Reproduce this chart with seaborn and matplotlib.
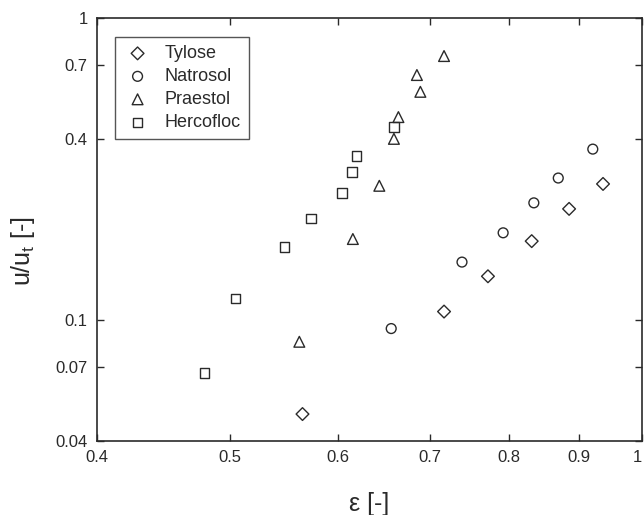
import matplotlib
matplotlib.use("Agg")
import matplotlib.pyplot as plt
import matplotlib.ticker as mticker
import seaborn as sns
import pandas as pd

# Data (x = voidage, y = u/u_t)
tylose_x = [0.565, 0.717, 0.772, 0.831, 0.885, 0.937]
tylose_y = [0.049, 0.107, 0.140, 0.183, 0.234, 0.283]
natrosol_x = [0.656, 0.739, 0.792, 0.834, 0.869, 0.921]
natrosol_y = [0.094, 0.156, 0.195, 0.245, 0.296, 0.369]
praestol_x = [0.562, 0.615, 0.643, 0.659, 0.664, 0.689, 0.685, 0.717]
praestol_y = [0.085, 0.186, 0.279, 0.399, 0.471, 0.571, 0.649, 0.750]
hercofloc_x = [0.479, 0.505, 0.548, 0.573, 0.604, 0.614, 0.619, 0.659]
hercofloc_y = [0.067, 0.118, 0.175, 0.218, 0.264, 0.310, 0.350, 0.437]

series_names = ["Tylose", "Natrosol", "Praestol", "Hercofloc"]
series_markers = ["D", "o", "^", "s"]
series_sizes = [42, 50, 60, 45]
x_ticks = [0.4, 0.5, 0.6, 0.7, 0.8, 0.9, 1.0]
x_tick_labels = ["0.4", "0.5", "0.6", "0.7", "0.8", "0.9", "1"]
y_ticks = [0.04, 0.07, 0.1, 0.4, 0.7, 1.0]
y_tick_labels = ["0.04", "0.07", "0.1", "0.4", "0.7", "1"]

data = {
    "Tylose": (tylose_x, tylose_y),
    "Natrosol": (natrosol_x, natrosol_y),
    "Praestol": (praestol_x, praestol_y),
    "Hercofloc": (hercofloc_x, hercofloc_y),
}

sns.set_style("ticks")
plt.rcParams["font.family"] = ["Liberation Sans", "DejaVu Sans"]
plt.rcParams["mathtext.fontset"] = "custom"
plt.rcParams["mathtext.rm"] = "Liberation Sans"

fig = plt.figure(figsize=(6.44, 5.15), dpi=100)
ax = fig.add_axes([0.1511, 0.1443, 0.8453, 0.8202])

ink = "#2a2a2a"
for name, mk, sz in zip(series_names, series_markers, series_sizes):
    xs, ys = data[name]
    df = pd.DataFrame({"x": xs, "y": ys})
    sns.scatterplot(data=df, x="x", y="y", marker=mk, s=sz, color=ink,
                    edgecolor=ink, linewidth=1.0, label=name, ax=ax, legend=False)

for coll in ax.collections:
    coll.set_facecolor("none")
    coll.set_edgecolor(ink)

ax.set_xscale("log")
ax.set_yscale("log")
ax.set_xlim(0.4, 1.0)
ax.set_ylim(0.04, 1.0)
ax.xaxis.set_major_locator(mticker.FixedLocator(x_ticks))
ax.xaxis.set_major_formatter(mticker.FixedFormatter(x_tick_labels))
ax.xaxis.set_minor_locator(mticker.NullLocator())
ax.yaxis.set_major_locator(mticker.FixedLocator(y_ticks))
ax.yaxis.set_major_formatter(mticker.FixedFormatter(y_tick_labels))
ax.yaxis.set_minor_locator(mticker.NullLocator())

ax.tick_params(direction="in", top=True, right=True, length=5, width=1,
               labelsize=12, colors=ink, pad=7)
for sp in ax.spines.values():
    sp.set_linewidth(1.2)
    sp.set_color(ink)

fig.canvas.draw()
xt = ax.get_xticklabels()
xt[-1].set_horizontalalignment("right")

ax.set_xlabel("ε [-]", fontsize=18, color=ink, labelpad=19)
ax.set_ylabel("u/u$_\\mathregular{t}$ [-]", fontsize=18, color=ink)
ax.yaxis.set_label_coords(-0.11, 0.45)

handles, labels = ax.get_legend_handles_labels()
leg = ax.legend(handles, labels, loc="upper left", bbox_to_anchor=(0.0325, 0.9557),
                borderaxespad=0.0,
                fontsize=13, frameon=True, fancybox=False, edgecolor=ink,
                labelspacing=0.33, handletextpad=0.7, borderpad=0.45,
                handlelength=1.6, labelcolor=ink)
leg.get_frame().set_linewidth(1.0)

fig.savefig("out.png", dpi=100)
